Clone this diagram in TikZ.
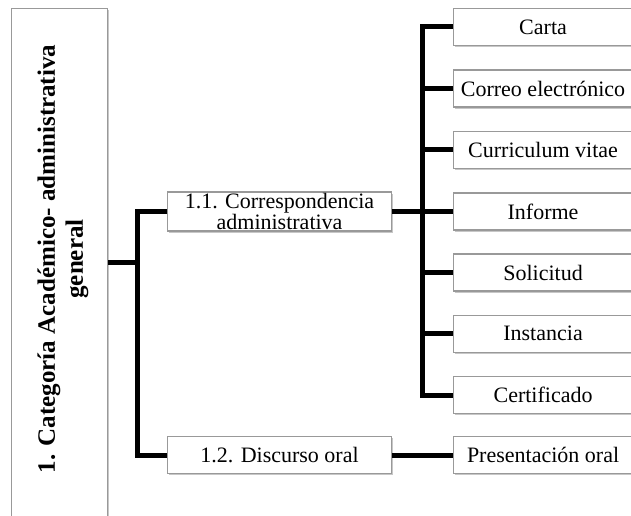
\documentclass[tikz,border=0pt]{standalone}
\usepackage{fontspec}
\setmainfont{Liberation Serif}
\usetikzlibrary{shadows}
\begin{document}
\begin{tikzpicture}[x=1pt,y=-1pt,
  box/.style={draw=black!40, line width=1.1pt, fill=white, inner sep=0pt,
    drop shadow={shadow xshift=1.2pt, shadow yshift=-1.8pt, opacity=0.22, fill=black}},
  leaf/.style={box, minimum width=179pt, minimum height=37pt, anchor=west,
    font=\fontsize{22}{22}\selectfont},
  mid/.style={box, minimum width=224pt, anchor=west, align=center,
    font=\fontsize{22}{21}\selectfont},
  conn/.style={line width=5pt, black}]
\useasboundingbox (0,0) rectangle (631,516);
\clip (0,0) rectangle (631,516);
% main box
\node[box, minimum width=96pt, minimum height=520pt, anchor=north west] (cat) at (11,8) {};
\node[rotate=90, align=center, font=\bfseries\fontsize{25}{28}\selectfont] (cattext) at (63,259)
  {1. Categoría Académico- administrativa\\general};
% middle level
\node[mid, minimum height=39pt] (corr) at (167,211.5) {1.1. Correspondencia\\administrativa};
\node[mid, minimum height=37pt] (disc) at (167,455) {1.2. Discurso oral};
% leaves
\node[leaf] (carta) at (453,27) {Carta};
\node[leaf] (correo) at (453,88.5) {Correo electrónico};
\node[leaf] (curr) at (453,149.8) {Curriculum vitae};
\node[leaf] (inf) at (453,211.5) {Informe};
\node[leaf] (sol) at (453,272.5) {Solicitud};
\node[leaf] (inst) at (453,333.8) {Instancia};
\node[leaf] (cert) at (453,395) {Certificado};
\node[leaf] (pres) at (453,455) {Presentación oral};
% connectors
\coordinate (j1) at (137,262);
\coordinate (j2) at (422,211.5);
\draw[conn] (cat.east |- j1) -- (j1);
\draw[conn] (corr.west) -| (j1) |- (disc.west);
\draw[conn] (corr.east) -- (j2);
\draw[conn] (carta.west) -| (j2) |- (cert.west);
\draw[conn] (j2 |- correo.west) -- (correo.west);
\draw[conn] (j2 |- curr.west) -- (curr.west);
\draw[conn] (j2 |- inf.west) -- (inf.west);
\draw[conn] (j2 |- sol.west) -- (sol.west);
\draw[conn] (j2 |- inst.west) -- (inst.west);
\draw[conn] (disc.east) -- (pres.west);
\end{tikzpicture}
\end{document}
